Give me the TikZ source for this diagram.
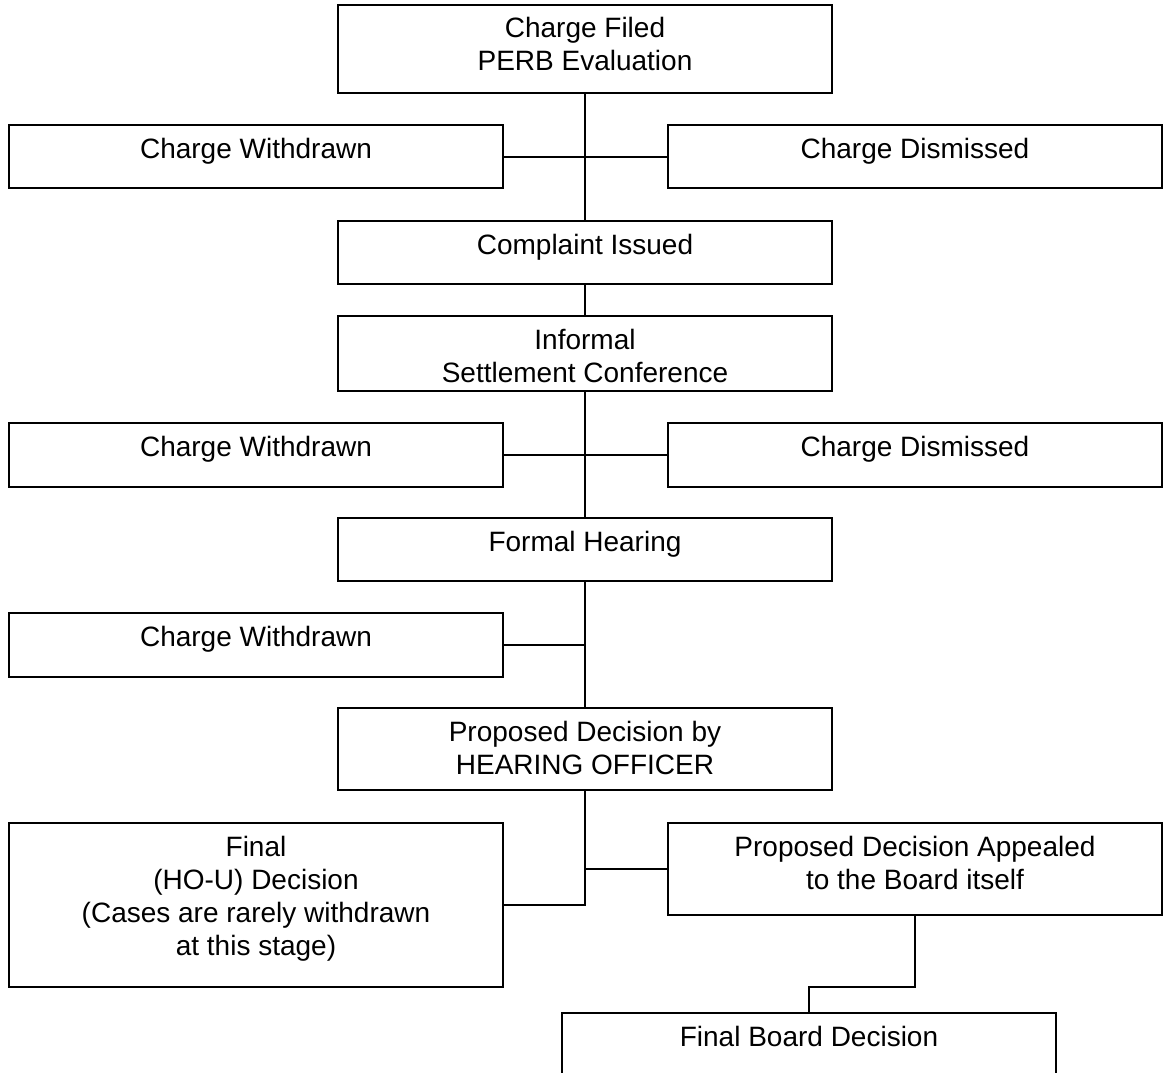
\documentclass[tikz,border=0pt]{standalone}
\usepackage{fontspec}
\setmainfont{Liberation Sans}
\newcommand\bxtext[2]{\parbox[c][#1][t]{494pt}{\centering\rule{0pt}{33pt}#2}}
\begin{document}
\begin{tikzpicture}[x=1pt,y=-1pt,
  box/.style={draw, line width=2pt, inner sep=0pt, outer sep=0pt, anchor=north west, font=\fontsize{28}{33}\selectfont},
  conn/.style={line width=2pt}]
\useasboundingbox (0,0) rectangle (1164,1073);
\clip (0,0) rectangle (1164,1073);
\fill[white] (0,0) rectangle (1164,1073);
% boxes
\node[box] (b1)  at (338,5)    {\bxtext{88pt}{Charge Filed\\PERB Evaluation}};
\node[box] (w1)  at (9,125)    {\bxtext{63pt}{Charge Withdrawn}};
\node[box] (d1)  at (668,125)  {\bxtext{63pt}{Charge Dismissed}};
\node[box] (ci)  at (338,221)  {\bxtext{63pt}{Complaint Issued}};
\node[box] (isc) at (338,316)  {\bxtext{75pt}{Informal\\Settlement Conference}};
\node[box] (w2)  at (9,423)    {\bxtext{64pt}{Charge Withdrawn}};
\node[box] (d2)  at (668,423)  {\bxtext{64pt}{Charge Dismissed}};
\node[box] (fh)  at (338,518)  {\bxtext{63pt}{Formal Hearing}};
\node[box] (w3)  at (9,613)    {\bxtext{64pt}{Charge Withdrawn}};
\node[box] (pd)  at (338,708)  {\bxtext{82pt}{Proposed Decision by\\HEARING OFFICER}};
\node[box] (fin) at (9,823)    {\bxtext{164pt}{Final\\(HO-U) Decision\\(Cases are rarely withdrawn\\at this stage)}};
\node[box] (app) at (668,823)  {\bxtext{92pt}{Proposed Decision Appealed\\to the Board itself}};
\node[box] (fb)  at (562,1013) {\bxtext{75pt}{Final Board Decision}};
% connectors
\draw[conn] (b1.south) -- (ci.north);
\draw[conn] (w1.east) -- (d1.west);
\draw[conn] (ci.south) -- (isc.north);
\draw[conn] (isc.south) -- (fh.north);
\draw[conn] (w2.east) -- (d2.west);
\draw[conn] (fh.south) -- (pd.north);
\draw[conn] (w3.east) -- (w3.east -| fh.south);
\draw[conn] (pd.south) |- (fin.east);
\draw[conn] (app.west) -- (app.west -| pd.south);
\draw[conn] (app.south) |- ([yshift=26pt]fb.north) -- (fb.north);
\end{tikzpicture}
\end{document}
